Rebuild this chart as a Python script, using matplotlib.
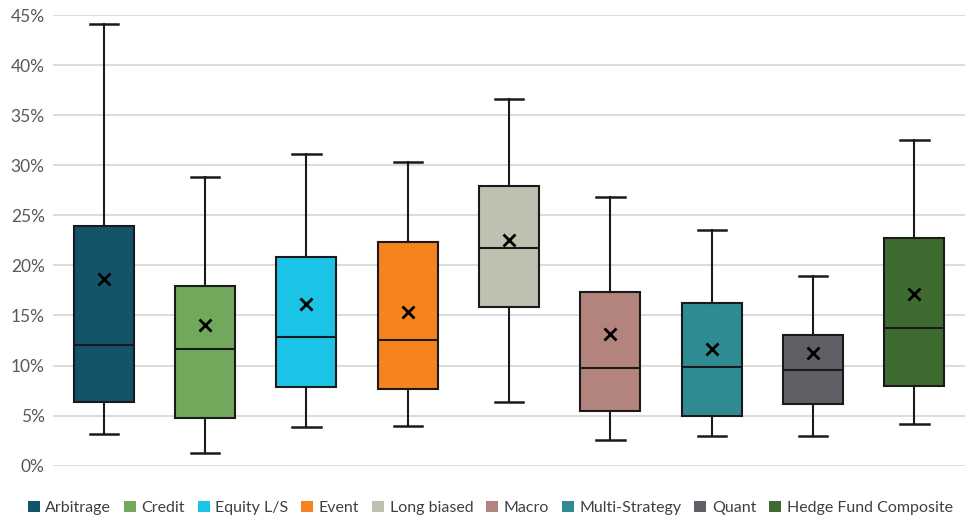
import matplotlib
matplotlib.use("Agg")
import matplotlib.pyplot as plt
from matplotlib.patches import Patch
from matplotlib.ticker import PercentFormatter

# valori (in %)
strategie = ["Arbitrage", "Credit", "Equity L/S", "Event", "Long biased",
             "Macro", "Multi-Strategy", "Quant", "Hedge Fund Composite"]
minimo = [3.2, 1.25, 3.9, 4.0, 6.35, 2.55, 3.0, 3.0, 4.2]
q1 = [6.4, 4.75, 7.85, 7.7, 15.8, 5.5, 5.0, 6.2, 8.0]
mediana = [12.1, 11.65, 12.8, 12.55, 21.7, 9.75, 9.9, 9.6, 13.7]
q3 = [23.9, 17.9, 20.8, 22.3, 27.9, 17.3, 16.2, 13.05, 22.75]
massimo = [44.1, 28.8, 31.1, 30.35, 36.6, 26.85, 23.5, 18.9, 32.55]
media = [18.6, 14.05, 16.1, 15.35, 22.5, 13.15, 11.7, 11.25, 17.1]
colori = ["#14546b", "#72a85c", "#1bc3e6", "#f5841f", "#bec0b0",
          "#b3837d", "#2f8a91", "#5f6065", "#3e6b2f"]

plt.rcParams["font.family"] = ["Lato", "DejaVu Sans"]

# statistiche per bxp
stats = []
for i, nome in enumerate(strategie):
    stats.append({"label": nome, "whislo": minimo[i], "q1": q1[i], "med": mediana[i],
                  "q3": q3[i], "whishi": massimo[i], "mean": media[i]})

fig = plt.figure(figsize=(9.65, 5.18), dpi=100)
ax = fig.add_axes([0.055, 0.101, 0.945, 0.870])

box = ax.bxp(stats, positions=range(len(stats)), widths=0.59, patch_artist=True,
             showmeans=True, showfliers=False,
             boxprops=dict(edgecolor="#1a1a1a", linewidth=1.5),
             medianprops=dict(color="#1a1a1a", linewidth=1.5),
             whiskerprops=dict(color="#1a1a1a", linewidth=1.5),
             capprops=dict(color="#1a1a1a", linewidth=1.8),
             meanprops=dict(marker="x", markeredgecolor="black", markersize=9,
                            markeredgewidth=2),
             capwidths=0.28)
for patch, c in zip(box["boxes"], colori):
    patch.set_facecolor(c)

ax.set_xlim(-0.5, len(stats) - 0.5)
ax.set_ylim(0, 45)
ax.set_yticks(range(0, 46, 5))
ax.yaxis.set_major_formatter(PercentFormatter(decimals=0))
ax.set_xticks([])
ax.tick_params(axis="y", length=0, labelsize=12.5, labelcolor="#595959", pad=6)
ax.grid(axis="y", color="#d9d9d9", linewidth=1.3)
ax.set_axisbelow(True)
for s in ax.spines.values():
    s.set_visible(False)

handles = [Patch(facecolor=c, edgecolor="none", label=n) for n, c in zip(strategie, colori)]
fig.legend(handles=handles, loc="lower center", bbox_to_anchor=(0.508, -0.022), ncol=9,
           frameon=False, fontsize=11.5, handlelength=0.75, handleheight=0.75,
           handletextpad=0.35, columnspacing=0.8, labelcolor="#404040")

fig.savefig("out.png", dpi=100)
